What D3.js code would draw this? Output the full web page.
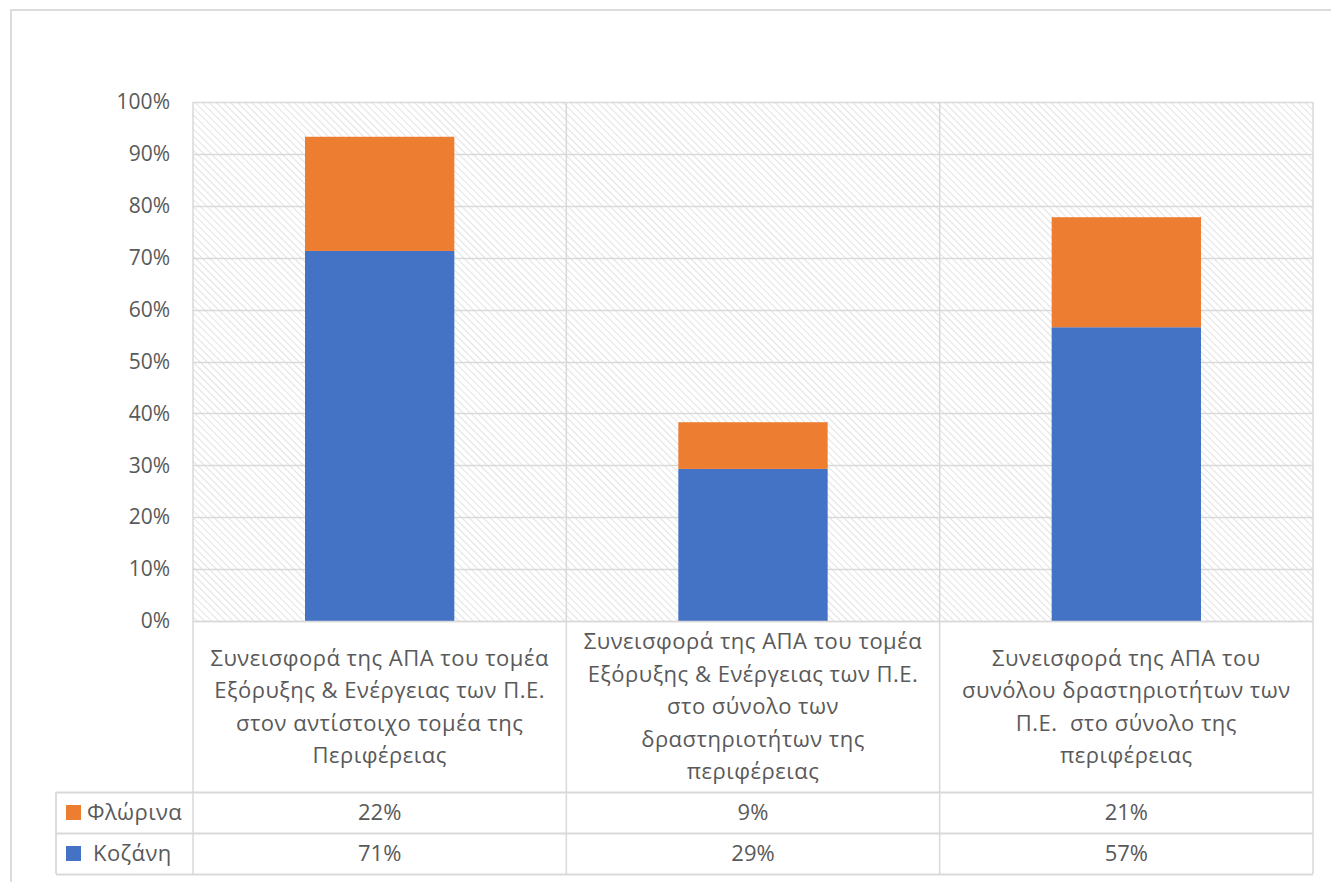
<!DOCTYPE html>
<html><head><meta charset="utf-8">
<script src="https://cdn.jsdelivr.net/npm/d3@7"></script>
<style>
body{margin:0;background:#fff;}
text{font-family:"Open Sans","Noto Sans",sans-serif;fill:#595959;}
</style></head>
<body>
<svg id="chart" width="1331" height="882"></svg>
<script>
const categories = [
  ["Συνεισφορά της ΑΠΑ του τομέα","Εξόρυξης & Ενέργειας των Π.Ε.","στον αντίστοιχο τομέα της","Περιφέρειας"],
  ["Συνεισφορά της ΑΠΑ του τομέα","Εξόρυξης & Ενέργειας των Π.Ε.","στο σύνολο των","δραστηριοτήτων της","περιφέρειας"],
  ["Συνεισφορά της ΑΠΑ του","συνόλου δραστηριοτήτων των","Π.Ε.  στο σύνολο της","περιφέρειας"]
];
const seriesNames = ["Κοζάνη","Φλώρινα"];
const kozani = [0.713, 0.293, 0.566];
const florina = [0.220, 0.090, 0.212];
const seriesColors = ["#4472C4","#ED7D31"];
const yTicks = [0,0.1,0.2,0.3,0.4,0.5,0.6,0.7,0.8,0.9,1.0];

const svg = d3.select("#chart");
const L=193, R=1313, T=102, B=621;
const tableRows = [792, 833, 874];
const legendLeft = 56;
const grid = "#d9d9d9";

// pattern
const defs = svg.append("defs");
const pat = defs.append("pattern").attr("id","hatch").attr("patternUnits","userSpaceOnUse")
  .attr("width",5).attr("height",5).attr("patternTransform","rotate(-45)");
pat.append("line").attr("x1",0).attr("y1",0).attr("x2",0).attr("y2",5)
  .attr("stroke","#d9d9d9").attr("stroke-width",1.5);

// outer frame
svg.append("rect").attr("x",11).attr("y",10).attr("width",1340).attr("height",900)
  .attr("fill","none").attr("stroke",grid).attr("stroke-width",1.8);

const idx = d3.range(categories.length);
const x = d3.scaleBand().domain(idx).range([L,R]).padding(0);
const y = d3.scaleLinear().domain([0,1]).range([B,T]);

svg.append("rect").attr("x",L).attr("y",T).attr("width",R-L).attr("height",B-T).attr("fill","url(#hatch)");

// gridlines
svg.append("g").selectAll("line").data(yTicks).join("line")
  .attr("x1",L).attr("x2",R).attr("y1",d=>Math.round(y(d))+0.5).attr("y2",d=>Math.round(y(d))+0.5)
  .attr("stroke",grid).attr("stroke-width",1.5);

// vertical category separators through plot and table
const seps = idx.map(i=>x(i)).concat([R]);
svg.append("g").selectAll("line").data(seps).join("line")
  .attr("x1",d=>d).attr("x2",d=>d).attr("y1",T).attr("y2",tableRows[2])
  .attr("stroke",grid).attr("stroke-width",1.5);

// bars
const stack = d3.stack().keys([0,1]).value((d,k)=> k===0? kozani[d] : florina[d]);
const stacked = stack(idx);
const bw = x.bandwidth()*0.4;
svg.append("g").selectAll("g").data(stacked).join("g")
  .attr("fill",(d,i)=>seriesColors[i])
  .selectAll("rect").data(d=>d.map((v,j)=>({v,j}))).join("rect")
  .attr("x",d=>x(d.j)+(x.bandwidth()-bw)/2).attr("width",bw)
  .attr("y",d=>y(d.v[1])).attr("height",d=>y(d.v[0])-y(d.v[1]));

// y axis labels
const yAxis = d3.axisLeft(y).tickValues(yTicks).tickFormat(d3.format(".0%")).tickSize(0).tickPadding(23);
const ga = svg.append("g").attr("transform",`translate(${L},0)`).call(yAxis);
ga.select(".domain").remove();
ga.selectAll("text").attr("font-size",21).attr("fill","#595959")
  .attr("font-family","'Open Sans','Noto Sans',sans-serif");

// table horizontal lines
svg.append("line").attr("x1",L).attr("x2",R).attr("y1",B+0.5).attr("y2",B+0.5).attr("stroke",grid).attr("stroke-width",1.5);
svg.append("g").selectAll("line").data(tableRows).join("line")
  .attr("x1",legendLeft).attr("x2",R).attr("y1",d=>d+0.5).attr("y2",d=>d+0.5)
  .attr("stroke",grid).attr("stroke-width",1.8);
svg.append("line").attr("x1",legendLeft).attr("x2",legendLeft).attr("y1",tableRows[0]).attr("y2",tableRows[2])
  .attr("stroke",grid).attr("stroke-width",1.8);

// category labels
const catMid = (B+tableRows[0])/2;
const lh = 32.5;
const cg = svg.append("g").selectAll("text").data(categories).join("text")
  .attr("text-anchor","middle").attr("font-size",22).attr("letter-spacing",0.5)
  .style("white-space","pre");
cg.each(function(lines,i){
  const t = d3.select(this);
  lines.forEach((ln,k)=>{
    t.append("tspan").attr("x",x(i)+x.bandwidth()/2)
     .attr("y",catMid + (k-(lines.length-1)/2)*lh).attr("dy","0.36em").text(ln);
  });
});

// data table rows: Florina first, then Kozani
const rows = [
  {name:"Φλώρινα", color:seriesColors[1], vals:florina},
  {name:" Κοζάνη", color:seriesColors[0], vals:kozani}
];
const fmt = d3.format(".0%");
rows.forEach((r,ri)=>{
  const cy = (tableRows[ri]+tableRows[ri+1])/2;
  svg.append("rect").attr("x",66).attr("y",cy-7.5).attr("width",15).attr("height",15).attr("fill",r.color);
  svg.append("text").attr("x",87).attr("y",cy).attr("dy","0.36em").attr("font-size",22).attr("letter-spacing",0.4)
    .style("white-space","pre").text(r.name);
  svg.append("g").selectAll("text").data(r.vals).join("text")
    .attr("x",(d,i)=>x(i)+x.bandwidth()/2).attr("y",cy).attr("dy","0.36em")
    .attr("text-anchor","middle").attr("font-size",22).text(d=>fmt(d));
});
</script>
</body></html>
